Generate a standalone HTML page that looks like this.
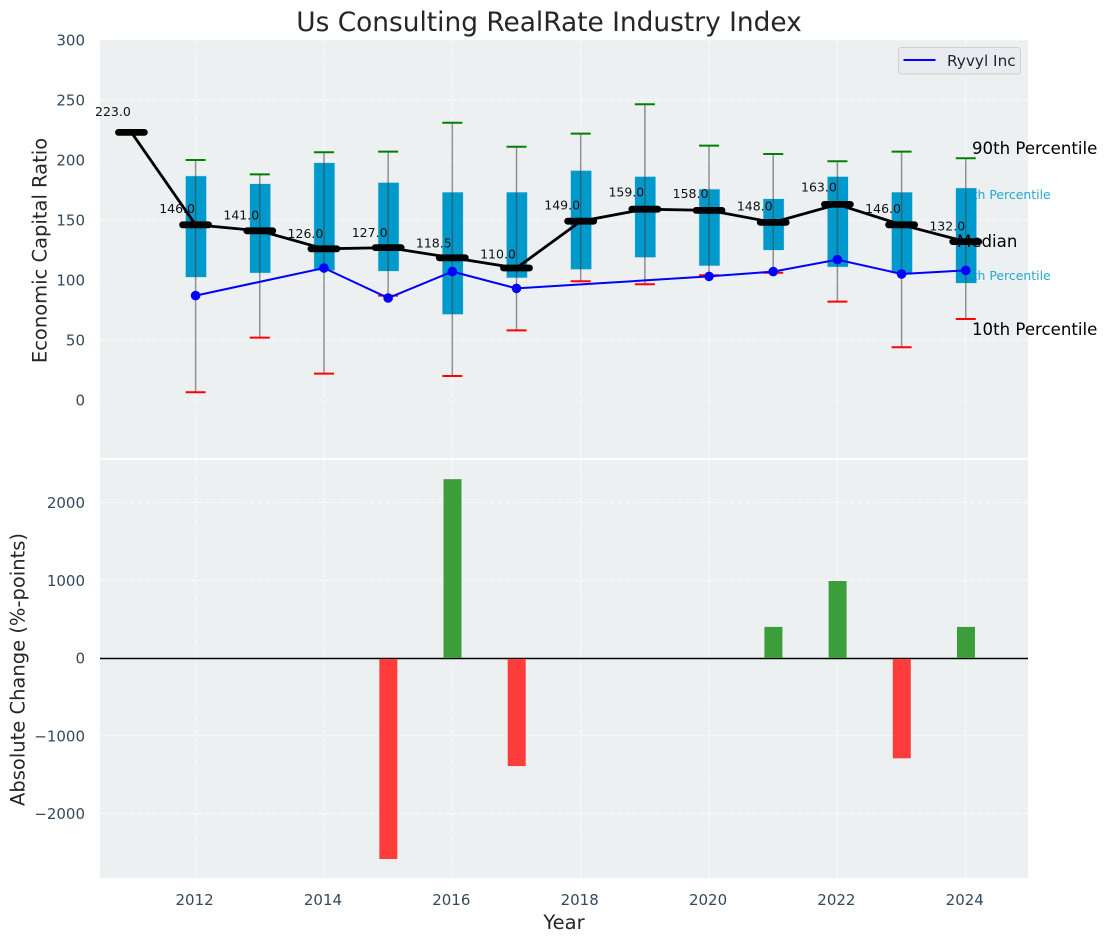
<!DOCTYPE html>
<html lang="en">
<head>
<meta charset="utf-8">
<title>Us Consulting RealRate Industry Index</title>
<style>
html,body{margin:0;padding:0;background:#fff;}
body{width:1107px;height:942px;overflow:hidden;}
svg{display:block;font-family:"DejaVu Sans","Liberation Sans",sans-serif;}
</style>
</head>
<body>
<svg id="chart" xmlns="http://www.w3.org/2000/svg" width="1107" height="942" viewBox="0 0 1107 942">
  <rect x="0" y="0" width="1107" height="942" fill="#ffffff"/>
  <rect x="100" y="40" width="928" height="418" fill="#ecf0f1"/>
  <rect x="100" y="460" width="928" height="418" fill="#ecf0f1"/>
  <g id="grid"></g>
  <text x="956.8" y="199" font-size="12.45" fill="#0099cc" fill-opacity="0.85">75th Percentile</text>
  <text x="956.8" y="280" font-size="12.45" fill="#0099cc" fill-opacity="0.85">25th Percentile</text>
  <g id="boxes"></g>
  <line x1="100" x2="1028" y1="658.5" y2="658.5" stroke="#b0b4b6" stroke-width="3"/>
  <g id="bars"></g>
  <line x1="100" x2="1028" y1="658.5" y2="658.5" stroke="#000" stroke-width="1"/>
  <g id="company"></g>
  <g id="labels"></g>
  <text x="957" y="247" font-size="16.6" fill="#000">Median</text>
  <g id="medians"></g>
  <text x="972" y="154" font-size="16.6" fill="#000">90th Percentile</text>
  <text x="972" y="335" font-size="16.6" fill="#000">10th Percentile</text>
  <g id="ticks"></g>
  <text x="549" y="31" font-size="26.4" fill="#262626" text-anchor="middle">Us Consulting RealRate Industry Index</text>
  <text transform="translate(46.5,250.5) rotate(-90)" font-size="19.5" fill="#262626" text-anchor="middle">Economic Capital Ratio</text>
  <text transform="translate(24.5,669.5) rotate(-90)" font-size="19.5" fill="#262626" text-anchor="middle">Absolute Change (%-points)</text>
  <text x="564" y="929" font-size="19.5" fill="#262626" text-anchor="middle">Year</text>
  <g>
    <rect x="898.5" y="47.5" width="122" height="26.5" rx="3" fill="#e9ebf1" stroke="#cfd0d4" stroke-width="1"/>
    <line x1="903.5" x2="935.5" y1="60" y2="60" stroke="#0000ff" stroke-width="2"/>
    <text x="947" y="66" font-size="15.3" fill="#262626">Ryvyl Inc</text>
  </g>
</svg>
<script>
const years = [2011, 2012, 2013, 2014, 2015, 2016, 2017, 2018, 2019, 2020, 2021, 2022, 2023, 2024];
const medianValues = [223, 146, 141, 126, 127, 118.5, 110, 149, 159, 158, 148, 163, 146, 132];
const p90Values = [null, 200, 188, 206.5, 207, 231, 211, 222, 246.5, 212, 205, 199, 207, 201.5];
const p75Values = [null, 186.5, 180, 197.5, 181, 173, 173, 191, 186, 175.5, 167.5, 186, 173, 176.5];
const p25Values = [null, 102.5, 106, 108, 107.5, 71.5, 102, 109, 119, 112, 125, 111, 106, 97.5];
const p10Values = [null, 6.5, 52, 22, 87, 20, 58, 99, 96.5, 104, 106, 82, 44, 67.5];
const companyValues = [null, 87, null, 110, 85, 107, 93, null, null, 103, 107, 117, 105, 108];
const changeValues = [null, null, null, null, -2585, 2300, -1390, null, null, null, 400, 990, -1290, 400];
const xTickYears = [2012, 2014, 2016, 2018, 2020, 2022, 2024];
const topYTicks = [0, 50, 100, 150, 200, 250, 300];
const bottomYTicks = [-2000, -1000, 0, 1000, 2000];

const NS = 'http://www.w3.org/2000/svg';
const xScale = function (year) { return 195.6 + (year - 2012) * 64.18; };
const yTop = function (v) { return 400 - v * 1.2; };
const yBottom = function (v) { return 658 - v * 0.07775; };
const gridStyle = { stroke: '#fff', 'stroke-width': 1.1, 'stroke-dasharray': '5 2.5', 'stroke-opacity': 0.8 };

function make(parent, tag, attrs, text) {
  const el = document.createElementNS(NS, tag);
  for (const key in attrs) { el.setAttribute(key, attrs[key]); }
  if (text !== undefined) { el.textContent = text; }
  document.getElementById(parent).appendChild(el);
  return el;
}

/* grid and ticks */
xTickYears.forEach(function (yr) {
  const a = make('grid', 'line', Object.assign({ x1: xScale(yr), x2: xScale(yr), y1: 40, y2: 458 }, gridStyle));
  
  
  const b = make('grid', 'line', Object.assign({ x1: xScale(yr), x2: xScale(yr), y1: 460, y2: 878 }, gridStyle));
  
  
  const t = make('ticks', 'text', { x: xScale(yr) - 1, y: 905, 'font-size': 15, fill: '#34495e', 'text-anchor': 'middle' }, String(yr));
  
  
});
topYTicks.forEach(function (v) {
  const g = make('grid', 'line', Object.assign({ x1: 100, x2: 1028, y1: yTop(v), y2: yTop(v) }, gridStyle));
  
  
  const t = make('ticks', 'text', { x: 85, y: yTop(v) + 5.5, 'font-size': 15, fill: '#34495e', 'text-anchor': 'end' }, String(v));
  
  
});
bottomYTicks.forEach(function (v) {
  const g = make('grid', 'line', Object.assign({ x1: 100, x2: 1028, y1: yBottom(v), y2: yBottom(v) }, gridStyle));
  
  
  const label = v < 0 ? '\u2212' + Math.abs(v) : String(v);
  const t = make('ticks', 'text', { x: 85, y: yBottom(v) + 5.5, 'font-size': 15, fill: '#34495e', 'text-anchor': 'end' }, label);
  
  
});

/* boxes and whiskers */
years.forEach(function (yr, i) {
  if (p75Values[i] === null) { return; }
  const x = xScale(yr);
  const box = make('boxes', 'rect', { x: x - 9.8, y: yTop(p75Values[i]), width: 20.4, height: yTop(p25Values[i]) - yTop(p75Values[i]), fill: '#0099cc', stroke: '#0099cc', 'stroke-opacity': 0.2, 'stroke-width': 1 });
  
  
  const w = make('boxes', 'line', { x1: x, x2: x, y1: yTop(p90Values[i]), y2: yTop(p10Values[i]), stroke: '#404040', 'stroke-opacity': 0.55, 'stroke-width': 1.5 });
  
  
  const hi = make('boxes', 'line', { x1: x - 10, x2: x + 10, y1: yTop(p90Values[i]), y2: yTop(p90Values[i]), stroke: '#008000', 'stroke-width': 2 });
  
  
  const lo = make('boxes', 'line', { x1: x - 10, x2: x + 10, y1: yTop(p10Values[i]), y2: yTop(p10Values[i]), stroke: '#ff0000', 'stroke-width': 2 });
  
  
});

/* change bars */
years.forEach(function (yr, i) {
  const v = changeValues[i];
  if (v === null) { return; }
  const top = Math.min(yBottom(v), yBottom(0));
  const bar = make('bars', 'rect', { x: xScale(yr) - 8.8, y: top, width: 18, height: Math.abs(yBottom(v) - yBottom(0)), fill: v > 0 ? '#3b9e3b' : '#ff3c3c' });
  
  
});

/* company series */
const companyPoints = [];
years.forEach(function (yr, i) {
  if (companyValues[i] !== null) { companyPoints.push(xScale(yr) + ',' + yTop(companyValues[i])); }
});
const companyLine = make('company', 'polyline', { points: companyPoints.join(' '), fill: 'none', stroke: '#0000ff', 'stroke-width': 2 });


years.forEach(function (yr, i) {
  if (companyValues[i] === null) { return; }
  const dot = make('company', 'circle', { cx: xScale(yr), cy: yTop(companyValues[i]), r: 4.8, fill: '#0000ff' });
  
  
});

/* median series */
const medianPoints = years.map(function (yr, i) { return xScale(yr) + ',' + yTop(medianValues[i]); });
const medianLine = make('medians', 'polyline', { points: medianPoints.join(' '), fill: 'none', stroke: '#000', 'stroke-width': 2.8 });


years.forEach(function (yr, i) {
  const x = xScale(yr);
  const y = yTop(medianValues[i]);
  const m = make('medians', 'line', { x1: x - 13, x2: x + 13, y1: y, y2: y, stroke: '#000', 'stroke-width': 6.8, 'stroke-linecap': 'round' });
  
  
  const t = make('labels', 'text', { x: x - 18.5, y: yTop(medianValues[i] * 1.05) - 3, 'font-size': 12.5, fill: '#111', 'text-anchor': 'middle' }, medianValues[i].toFixed(1));
  
  
});
</script>
</body>
</html>
